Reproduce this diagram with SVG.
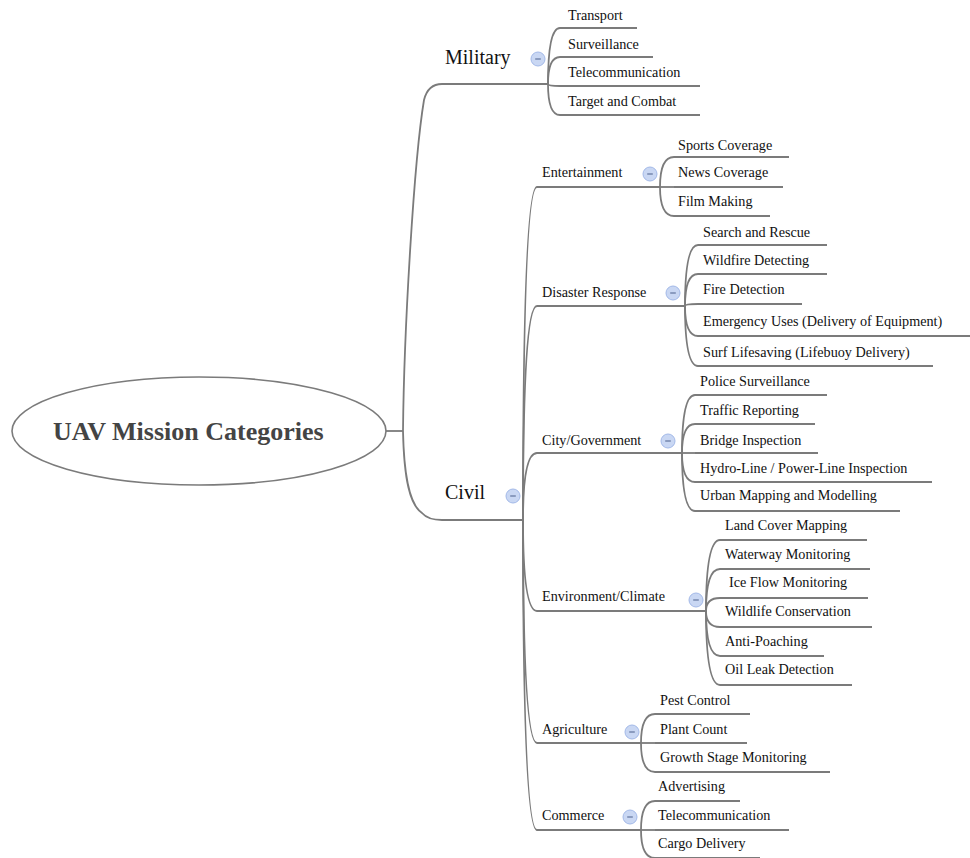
<svg xmlns="http://www.w3.org/2000/svg" width="970" height="858" viewBox="0 0 970 858">
<style>
.ln{fill:none;stroke:#7b7b7b;stroke-width:1.8}
.ul{stroke:#7b7b7b;stroke-width:1.8}
.t{font-family:"Liberation Serif","Times New Roman",serif;font-size:14.2px;fill:#111}
.m{font-family:"Liberation Serif","Times New Roman",serif;font-size:20px;fill:#111}
.root{font-family:"Liberation Serif","Times New Roman",serif;font-size:26px;font-weight:bold;fill:#444}
</style>
<defs>
<g id="minus">
<circle r="7" fill="#c9d7f3" stroke="#a3b9e8" stroke-width="1"/>
<line x1="-2.8" y1="0" x2="2.8" y2="0" stroke="#6f82a8" stroke-width="1.4"/>
</g>
</defs>
<rect width="970" height="858" fill="#fff"/>
<g id="connectors">
<path class="ln" d="M386,431 H403"/>
<path class="ln" d="M403,431 C404,330 414,160 424,100 Q428,84 442,84 L548,84"/>
<path class="ln" d="M403,431 C404,480 410,505 422,513 Q428,520 442,520 L523,520"/>
<path class="ln" d="M548,84 Q548,28 560,28"/>
<path class="ln" d="M548,84 Q548,57 560,57"/>
<path class="ln" d="M548,84 Q548,86 560,86"/>
<path class="ln" d="M548,84 Q548,115 560,115"/>
<path class="ln" d="M523,520 Q523,187 537,187 L660,187"/>
<path class="ln" d="M523,520 Q523,306 537,306 L685,306"/>
<path class="ln" d="M523,520 Q523,453 537,453 L682,453"/>
<path class="ln" d="M523,520 Q523,611 537,611 L706,611"/>
<path class="ln" d="M523,520 Q523,743 537,743 L641,743"/>
<path class="ln" d="M523,520 Q523,830 537,830 L641,830"/>
<path class="ln" d="M660,187 Q660,157 674,157"/>
<path class="ln" d="M660,187 L674,187"/>
<path class="ln" d="M660,187 Q660,216 674,216"/>
<path class="ln" d="M685,306 Q685,245 698,245"/>
<path class="ln" d="M685,306 Q685,274 698,274"/>
<path class="ln" d="M685,306 Q685,304 698,304"/>
<path class="ln" d="M685,306 Q685,336 698,336"/>
<path class="ln" d="M685,306 Q685,366 698,366"/>
<path class="ln" d="M682,453 Q682,395 695,395"/>
<path class="ln" d="M682,453 Q682,424 695,424"/>
<path class="ln" d="M682,453 L695,453"/>
<path class="ln" d="M682,453 Q682,482 695,482"/>
<path class="ln" d="M682,453 Q682,511 695,511"/>
<path class="ln" d="M706,611 Q706,540 720,540"/>
<path class="ln" d="M706,611 Q706,569 720,569"/>
<path class="ln" d="M706,611 Q706,598 720,598"/>
<path class="ln" d="M706,611 Q706,627 720,627"/>
<path class="ln" d="M706,611 Q706,656 720,656"/>
<path class="ln" d="M706,611 Q706,685 720,685"/>
<path class="ln" d="M641,743 Q641,714 655,714"/>
<path class="ln" d="M641,743 L655,743"/>
<path class="ln" d="M641,743 Q641,772 655,772"/>
<path class="ln" d="M641,830 Q641,801 655,801"/>
<path class="ln" d="M641,830 L655,830"/>
<path class="ln" d="M641,830 Q641,858 655,858"/>
</g>

<g id="root">
<ellipse cx="199" cy="431" rx="187" ry="54" fill="#fff" stroke="#7b7b7b" stroke-width="1.6"/>
<text class="root" x="53" y="440">UAV Mission Categories</text>
</g>

<g id="military">
<text class="m" x="445" y="64">Military</text>
<use href="#minus" x="538" y="59"/>
</g>
<g id="m-transport"><text class="t" x="568" y="20">Transport</text><line class="ul" x1="560" y1="28" x2="637" y2="28"/></g>
<g id="m-surveillance"><text class="t" x="568" y="49">Surveillance</text><line class="ul" x1="560" y1="57" x2="653" y2="57"/></g>
<g id="m-telecom"><text class="t" x="568" y="77">Telecommunication</text><line class="ul" x1="560" y1="86" x2="700" y2="86"/></g>
<g id="m-target"><text class="t" x="568" y="106">Target and Combat</text><line class="ul" x1="560" y1="115" x2="700" y2="115"/></g>

<g id="civil">
<text class="m" x="445" y="499">Civil</text>
<use href="#minus" x="513" y="496"/>
</g>

<g id="entertainment">
<text class="t" x="542" y="177">Entertainment</text>
<use href="#minus" x="650" y="174"/>
</g>
<g id="e-sports"><text class="t" x="678" y="150">Sports Coverage</text><line class="ul" x1="674" y1="157" x2="789" y2="157"/></g>
<g id="e-news"><text class="t" x="678" y="177">News Coverage</text><line class="ul" x1="674" y1="187" x2="783" y2="187"/></g>
<g id="e-film"><text class="t" x="678" y="206">Film Making</text><line class="ul" x1="674" y1="216" x2="770" y2="216"/></g>

<g id="disaster">
<text class="t" x="542" y="297">Disaster Response</text>
<use href="#minus" x="673" y="293"/>
</g>
<g id="d-search"><text class="t" x="703" y="237">Search and Rescue</text><line class="ul" x1="698" y1="245" x2="827" y2="245"/></g>
<g id="d-wildfire"><text class="t" x="703" y="265">Wildfire Detecting</text><line class="ul" x1="698" y1="274" x2="827" y2="274"/></g>
<g id="d-fire"><text class="t" x="703" y="294">Fire Detection</text><line class="ul" x1="698" y1="304" x2="802" y2="304"/></g>
<g id="d-emergency"><text class="t" x="703" y="326">Emergency Uses (Delivery of Equipment)</text><line class="ul" x1="698" y1="336" x2="970" y2="336"/></g>
<g id="d-surf"><text class="t" x="703" y="357">Surf Lifesaving (Lifebuoy Delivery)</text><line class="ul" x1="698" y1="366" x2="933" y2="366"/></g>

<g id="city">
<text class="t" x="542" y="445">City/Government</text>
<use href="#minus" x="668" y="441"/>
</g>
<g id="c-police"><text class="t" x="700" y="386">Police Surveillance</text><line class="ul" x1="695" y1="395" x2="827" y2="395"/></g>
<g id="c-traffic"><text class="t" x="700" y="415">Traffic Reporting</text><line class="ul" x1="695" y1="424" x2="815" y2="424"/></g>
<g id="c-bridge"><text class="t" x="700" y="445">Bridge Inspection</text><line class="ul" x1="695" y1="453" x2="818" y2="453"/></g>
<g id="c-hydro"><text class="t" x="700" y="473">Hydro-Line / Power-Line Inspection</text><line class="ul" x1="695" y1="482" x2="932" y2="482"/></g>
<g id="c-urban"><text class="t" x="700" y="500">Urban Mapping and Modelling</text><line class="ul" x1="695" y1="511" x2="900" y2="511"/></g>

<g id="environment">
<text class="t" x="542" y="601">Environment/Climate</text>
<use href="#minus" x="696" y="600"/>
</g>
<g id="v-land"><text class="t" x="725" y="530">Land Cover Mapping</text><line class="ul" x1="720" y1="540" x2="867" y2="540"/></g>
<g id="v-waterway"><text class="t" x="725" y="559">Waterway Monitoring</text><line class="ul" x1="720" y1="569" x2="870" y2="569"/></g>
<g id="v-ice"><text class="t" x="729" y="587">Ice Flow Monitoring</text><line class="ul" x1="720" y1="598" x2="868" y2="598"/></g>
<g id="v-wildlife"><text class="t" x="725" y="616">Wildlife Conservation</text><line class="ul" x1="720" y1="627" x2="872" y2="627"/></g>
<g id="v-poaching"><text class="t" x="725" y="646">Anti-Poaching</text><line class="ul" x1="720" y1="656" x2="824" y2="656"/></g>
<g id="v-oil"><text class="t" x="725" y="674">Oil Leak Detection</text><line class="ul" x1="720" y1="685" x2="852" y2="685"/></g>

<g id="agriculture">
<text class="t" x="542" y="734">Agriculture</text>
<use href="#minus" x="632" y="732"/>
</g>
<g id="a-pest"><text class="t" x="660" y="705">Pest Control</text><line class="ul" x1="655" y1="714" x2="750" y2="714"/></g>
<g id="a-plant"><text class="t" x="660" y="734">Plant Count</text><line class="ul" x1="655" y1="743" x2="747" y2="743"/></g>
<g id="a-growth"><text class="t" x="660" y="762">Growth Stage Monitoring</text><line class="ul" x1="655" y1="772" x2="830" y2="772"/></g>

<g id="commerce">
<text class="t" x="542" y="820">Commerce</text>
<use href="#minus" x="630" y="817"/>
</g>
<g id="co-advertising"><text class="t" x="658" y="791">Advertising</text><line class="ul" x1="655" y1="801" x2="740" y2="801"/></g>
<g id="co-telecom"><text class="t" x="658" y="820">Telecommunication</text><line class="ul" x1="655" y1="830" x2="789" y2="830"/></g>
<g id="co-cargo"><text class="t" x="658" y="848">Cargo Delivery</text><line class="ul" x1="655" y1="858" x2="760" y2="858"/></g>
</svg>
